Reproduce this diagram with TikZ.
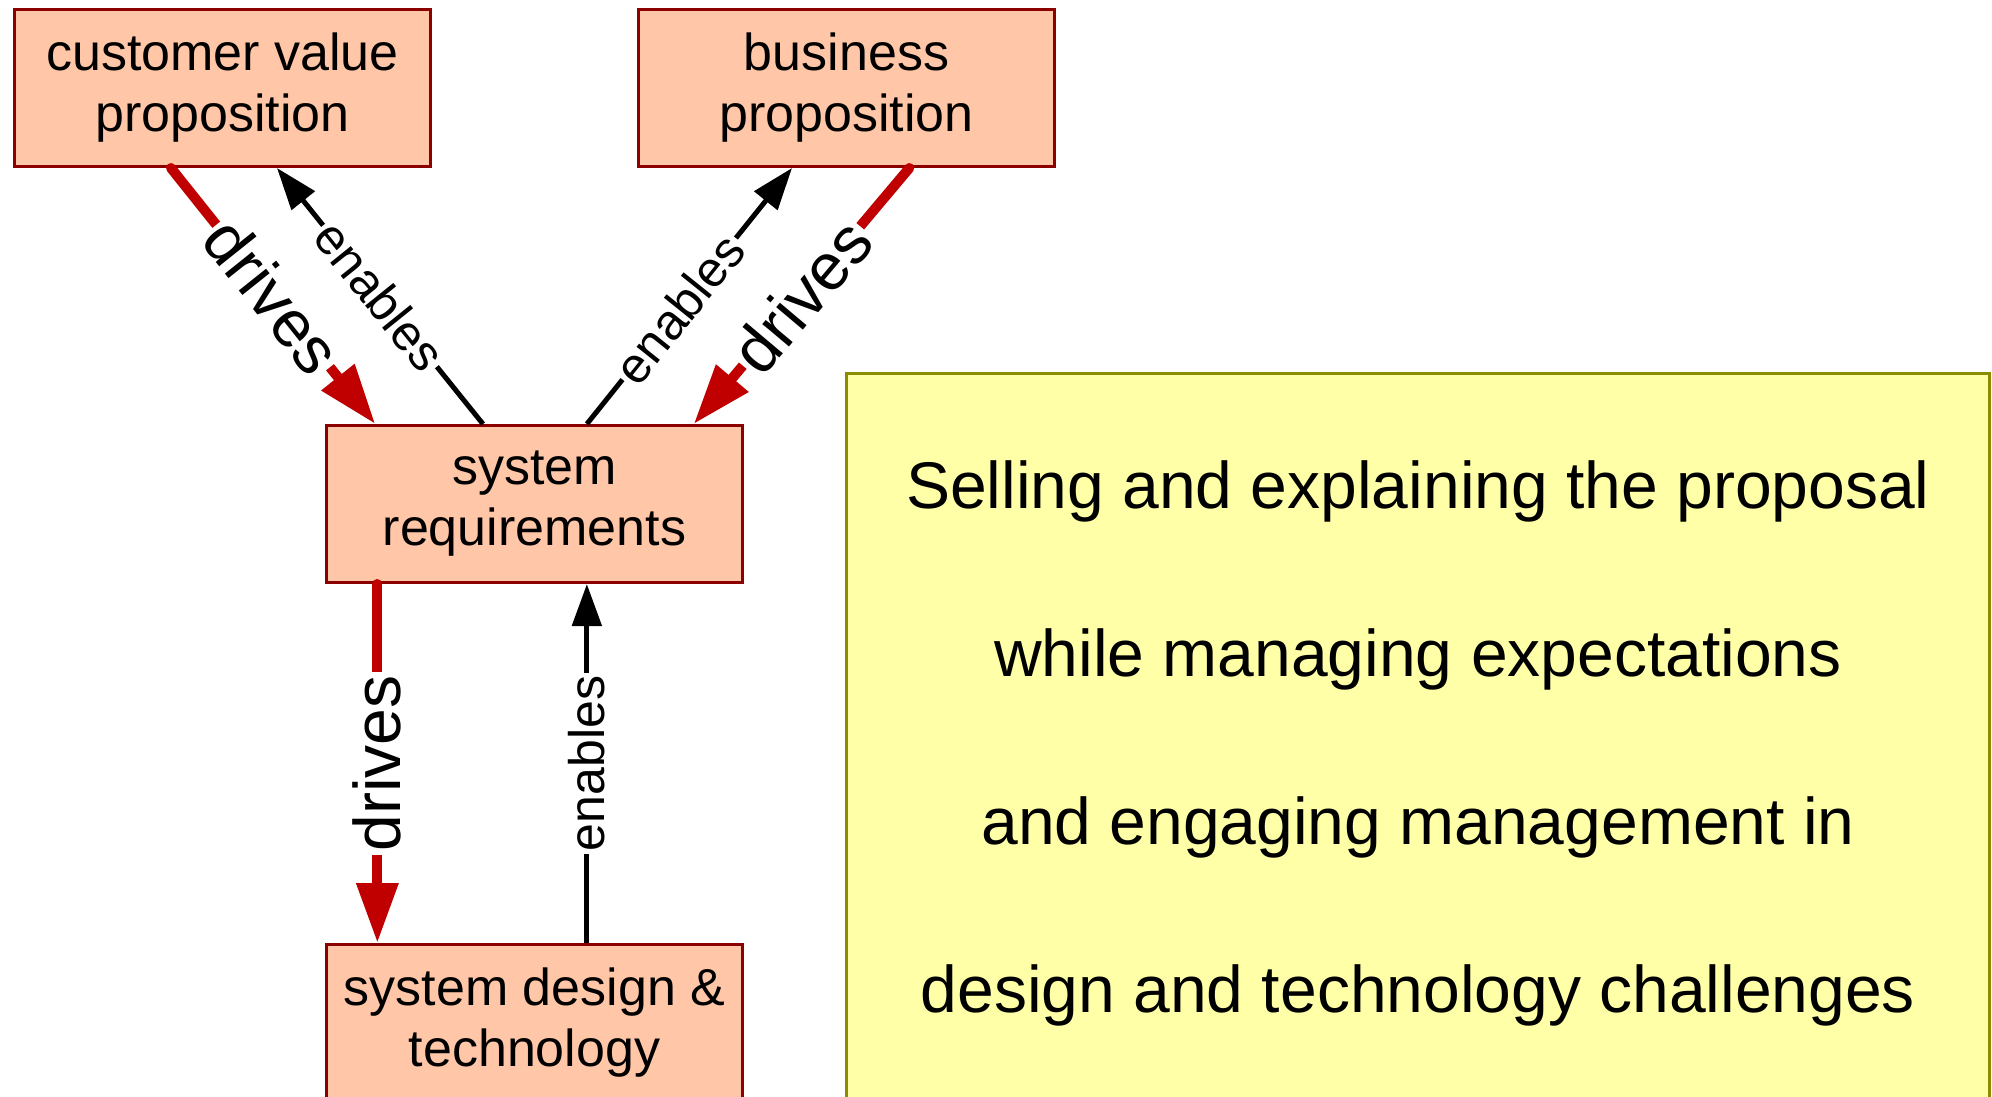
\documentclass[tikz,border=0pt]{standalone}
\usepackage{fontspec}
\setmainfont{Liberation Sans}
\usetikzlibrary{arrows.meta,calc}
\definecolor{peach}{HTML}{FFC6A8}
\definecolor{boxborder}{HTML}{8B0000}
\definecolor{arrowred}{HTML}{C00000}
\definecolor{noteyellow}{HTML}{FFFFA8}
\definecolor{noteborder}{HTML}{8C8C00}
\begin{document}
\begin{tikzpicture}[x=1pt,y=-1pt,
  box/.style={draw=boxborder, line width=3pt, fill=peach, minimum width=416pt,
    minimum height=157pt, inner sep=0pt, align=center,
    font=\fontsize{52}{61}\selectfont, anchor=north west},
  note/.style={draw=noteborder, line width=3pt, fill=noteyellow, minimum width=1143pt,
    minimum height=740pt, inner sep=0pt, align=center,
    font=\fontsize{66}{168}\selectfont, anchor=north west},
  drv/.style={draw=arrowred, line width=10pt, line cap=round,
    -{Triangle[length=60pt,width=40pt]}},
  enb/.style={draw=black, line width=5pt, -{Triangle[length=42pt,width=29pt]}},
  dlab/.style={fill=white, inner sep=3pt, font=\fontsize{66}{66}\selectfont},
  elab/.style={fill=white, inner sep=3pt, font=\fontsize{50}{50}\selectfont},
]
\clip (0,0) rectangle (1992,1097);
\fill[white] (0,0) rectangle (1992,1097);

\node[box] (cvp) at (13,8) {customer value\\proposition};
\node[box] (bp) at (637,8) {business\\proposition};
\node[box] (sr) at (325,424) {system\\requirements};
\node[box] (sdt) at (325,943) {system design \&\\technology};

\node[note] (note) at (845,372) {Selling and explaining the proposal\\while managing expectations\\and engaging management in\\design and technology challenges};

% customer value proposition
\draw[drv] ($(cvp.south west)!0.377!(cvp.south east)$) --
  node[dlab, sloped] {drives} ($(sr.north west)!0.12!(sr.north east)$);
\draw[enb] ($(sr.north west)!0.377!(sr.north east)$) --
  node[elab, sloped] {enables} ($(cvp.south west)!0.63!(cvp.south east)$);

% business proposition
\draw[enb] ($(sr.north west)!0.625!(sr.north east)$) --
  node[elab, sloped, pos=0.45] {enables} ($(bp.south west)!0.37!(bp.south east)$);
\draw[drv] ($(bp.south west)!0.65!(bp.south east)$) --
  node[dlab, sloped] {drives} ($(sr.north west)!0.88!(sr.north east)$);

% system requirements -> design
\draw[drv] ($(sr.south west)!0.125!(sr.south east)$) --
  node[dlab, rotate=90] {drives} ($(sdt.north west)!0.125!(sdt.north east)$);
\draw[enb] ($(sdt.north west)!0.625!(sdt.north east)$) --
  node[elab, rotate=90] {enables} ($(sr.south west)!0.625!(sr.south east)$);
\end{tikzpicture}
\end{document}
